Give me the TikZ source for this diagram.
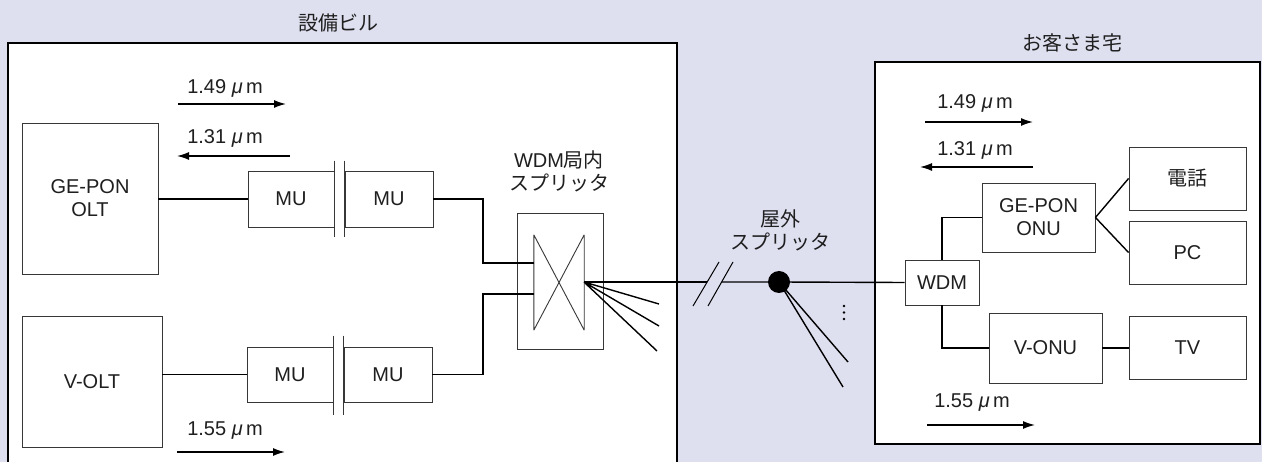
\documentclass[tikz,border=0pt]{standalone}
\usepackage{fontspec}
\setmainfont{Liberation Sans}
\newfontfamily\jp{Noto Sans CJK JP}
\usetikzlibrary{arrows.meta}
\definecolor{bgc}{RGB}{222,224,240}
\definecolor{boxc}{RGB}{55,55,55}
\newcommand{\um}{ {\itshape μ}\,m}
\begin{document}
\begin{tikzpicture}[x=1pt,y=-1pt,
  every node/.style={font=\fontsize{20}{23}\selectfont, text=black!88},
  box/.style={draw=boxc, line width=0.9pt, fill=white, inner sep=0pt, align=center},
  wire/.style={line width=1.4pt, draw=black},
  thinln/.style={line width=0.9pt, draw=boxc},
  wl/.style={-{Latex[length=12pt,width=8pt]}, line width=1.4pt},
  frame/.style={line width=2.6pt, draw=black}]
\useasboundingbox (0,0) rectangle (1262,462);
\fill[bgc] (0,0) rectangle (1262,462);
% outer frames
\fill[white] (8,43) rectangle (677,470);
\draw[frame] (8,470) -- (8,43) -- (677,43) -- (677,470);
\fill[white] (875,62) rectangle (1260,444);
\draw[frame] (875,62) rectangle (1260,444);
\node (t1) at (338,23) {\jp 設備ビル};
\node (t2) at (1072,43) {\jp お客さま宅};

% left side boxes
\node[box, minimum width=136pt, minimum height=151pt] (olt1) at (90,198.5) {GE-PON\\OLT};
\node[box, minimum width=140pt, minimum height=131pt] (olt2) at (92,381.5) {V-OLT};
\node[box, minimum width=86pt, minimum height=56pt] (mu1) at (291,199) {MU};
\node[box, minimum width=88pt, minimum height=56pt] (mu2) at (389,199) {MU};
\node[box, minimum width=86pt, minimum height=55pt] (mu3) at (290,374.5) {MU};
\node[box, minimum width=88pt, minimum height=55pt] (mu4) at (388,374.5) {MU};

% MU connectors
\draw[line width=1.4pt, draw=boxc] ([yshift=10pt]mu1.north east) -- ([yshift=-10pt]mu1.south east);
\draw[line width=1.4pt, draw=boxc] ([yshift=10pt]mu2.north west) -- ([yshift=-10pt]mu2.south west);
\draw[line width=1.4pt, draw=boxc] ([yshift=11pt]mu3.north east) -- ([yshift=-13pt]mu3.south east);
\draw[line width=1.4pt, draw=boxc] ([yshift=11pt]mu4.north west) -- ([yshift=-13pt]mu4.south west);

% splitter
\node[box, minimum width=86pt, minimum height=136pt] (sp) at (560,281) {};
\node[inner sep=0pt, minimum width=50pt, minimum height=95pt] (spi) at (559,282.5) {};
\draw[thinln] (spi.north west) -- (spi.south west) (spi.north east) -- (spi.south east)
  (spi.north west) -- (spi.south east) (spi.north east) -- (spi.south west);
\node[align=center] (spt) at (559,171) {WDM{\jp 局内}\\\jp スプリッタ};

\coordinate (in1) at (534,263);
\coordinate (in2) at (534,294);
\coordinate (out) at (584,282);

\draw[wire] (olt1.east |- mu1.west) -- (mu1.west);
\draw[wire] (olt2.east |- mu3.west) -- (mu3.west);
\draw[wire] (mu2.east) -- (483,199) -- (483,263) -- (in1);
\draw[wire] (mu4.east) -- (483,374.5) -- (483,294) -- (in2);

% fan from splitter
\coordinate (f1) at (659,304);
\coordinate (f2) at (659,326);
\coordinate (f3) at (657,351);
\draw[wire] (out) -- (f1) (out) -- (f2) (out) -- (f3);

% main line with break
\coordinate (g1) at (707,282);
\coordinate (g2) at (722,282);
\draw[line width=1pt] (693,306) -- (719,262) (708,306) -- (733,262);

% right side boxes
\node[box, minimum width=74pt, minimum height=45pt] (wdm) at (942,282.5) {WDM};
\node[box, minimum width=113pt, minimum height=69pt] (onu1) at (1038.5,217.5) {GE-PON\\ONU};
\node[box, minimum width=117pt, minimum height=63pt] (tel) at (1187.5,178.5) {\jp 電話};
\node[box, minimum width=117pt, minimum height=63pt] (pc) at (1187.5,252.5) {PC};
\node[box, minimum width=113pt, minimum height=70pt] (onu2) at (1045.5,348) {V-ONU};
\node[box, minimum width=117pt, minimum height=63pt] (tv) at (1187.5,347.5) {TV};

\node[circle, fill=black, minimum size=22pt, inner sep=0pt] (dot) at (779,282) {};
\draw[wire] (out) -- (g1);
\draw[wire] (g2) -- (dot) -- (wdm.west);
\coordinate (d1) at (848,362);
\coordinate (d2) at (843,387);
\draw[wire] (dot.center) -- (d1) (dot.center) -- (d2);
\fill (844,306) circle (1.4pt) (844,312.5) circle (1.4pt) (844,319) circle (1.4pt);
\node[align=center] (ost) at (780,230) {\jp 屋外\\\jp スプリッタ};

\draw[wire] (wdm.north) |- (onu1.west);
\draw[wire] (wdm.south) |- (onu2.west);
\draw[wire] (onu1.east) -- (tel.west);
\draw[wire] (onu1.east) -- (pc.west);
\draw[wire] (onu2.east) -- (onu2.east -| tv.west);

% wavelength arrows, left
\node (l1) at (225,88) {1.49\um};
\coordinate (a1s) at (178,104); \coordinate (a1e) at (286,104);
\draw[wl] (a1s) -- (a1e);
\node (l2) at (225,138) {1.31\um};
\coordinate (a2s) at (290,156); \coordinate (a2e) at (177,156);
\draw[wl] (a2s) -- (a2e);
\node (l3) at (225,431) {1.55\um};
\coordinate (a3s) at (177,452); \coordinate (a3e) at (285,452);
\draw[wl] (a3s) -- (a3e);

% wavelength arrows, right
\node (r1) at (975,103) {1.49\um};
\coordinate (b1s) at (925,122); \coordinate (b1e) at (1033,122);
\draw[wl] (b1s) -- (b1e);
\node (r2) at (975,150) {1.31\um};
\coordinate (b2s) at (1033,167); \coordinate (b2e) at (920,167);
\draw[wl] (b2s) -- (b2e);
\node (r3) at (972,403) {1.55\um};
\coordinate (b3s) at (927,425); \coordinate (b3e) at (1035,425);
\draw[wl] (b3s) -- (b3e);
\end{tikzpicture}
\end{document}
